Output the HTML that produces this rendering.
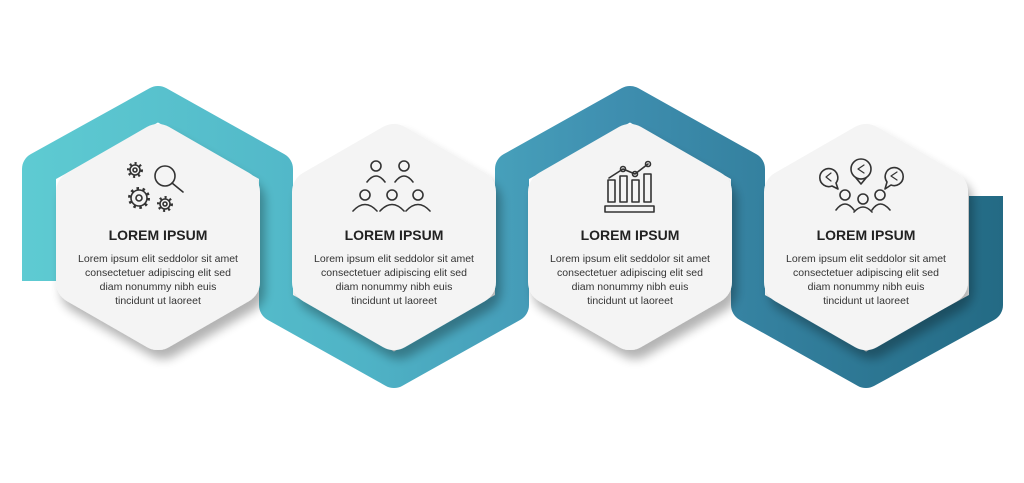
<!DOCTYPE html>
<html><head><meta charset="utf-8"><style>
html,body{margin:0;padding:0;background:#fff;}
svg{display:block}
text{font-family:"Liberation Sans",sans-serif;fill:#222;text-anchor:middle}
.t{font-weight:bold;font-size:14px}
.b{font-size:10.5px;fill:#333}
.ic{fill:none;stroke:#333;stroke-width:1.6;stroke-linecap:round;stroke-linejoin:round}
.gt{fill:none;stroke:#333;stroke-width:3}
</style></head><body>
<svg width="1024" height="483" viewBox="0 0 1024 483">
<defs>
<linearGradient id="g" gradientUnits="userSpaceOnUse" x1="20" y1="0" x2="1005" y2="0">
<stop offset="0" stop-color="#5ecbd2"/><stop offset="0.35" stop-color="#4fb3c6"/>
<stop offset="0.6" stop-color="#3f8fb0"/><stop offset="1" stop-color="#236a84"/>
</linearGradient>
<filter id="sh" x="-20%" y="-20%" width="150%" height="150%">
<feGaussianBlur in="SourceAlpha" stdDeviation="5"/><feOffset dx="5" dy="9"/>
<feComponentTransfer><feFuncA type="linear" slope="0.3"/></feComponentTransfer>
<feMerge><feMergeNode/><feMergeNode in="SourceGraphic"/></feMerge></filter>
</defs>
<path d="M39 281 L39 169 L158 103 L276 169 L276 305 L394 371 L512 305 L512 169 L630 103 L748 169 L748 305 L866 371 L986 305 L986 196" fill="none" stroke="url(#g)" stroke-width="34" stroke-linejoin="round"/>
<g filter="url(#sh)" fill="#f4f4f4" stroke="#f4f4f4" stroke-width="44" stroke-linejoin="round">
<polygon points="158,146 238,192 238,282 158,328 78,282 78,192"/>
<polygon points="394,146 474,192 474,282 394,328 314,282 314,192"/>
<polygon points="630,146 710,192 710,282 630,328 550,282 550,192"/>
<polygon points="866,146 946,192 946,282 866,328 786,282 786,192"/>
</g>
<g class="ic">
<circle cx="135" cy="170" r="5"/><circle cx="135" cy="170" r="2"/>
<circle cx="165" cy="176" r="10"/><line x1="172" y1="183" x2="183" y2="192"/>
<circle cx="139" cy="198" r="8"/><circle cx="139" cy="198" r="3"/>
<circle cx="165" cy="204" r="5"/><circle cx="165" cy="204" r="2"/>
</g>
<circle class="gt" cx="135" cy="170" r="6.5" stroke-dasharray="2 3"/>
<circle class="gt" cx="139" cy="198" r="9.5" stroke-dasharray="2.5 3.5"/>
<circle class="gt" cx="165" cy="204" r="6.5" stroke-dasharray="2 3"/>
<g class="ic">
<circle cx="376" cy="166" r="5"/><path d="M367 182 Q376 170 385 182"/>
<circle cx="404" cy="166" r="5"/><path d="M395 182 Q404 170 413 182"/>
<circle cx="365" cy="195" r="5"/><path d="M353 211 Q365 198 377 211"/>
<circle cx="392" cy="195" r="5"/><path d="M380 211 Q392 198 404 211"/>
<circle cx="418" cy="195" r="5"/><path d="M406 211 Q418 198 430 211"/>
</g>
<g class="ic">
<rect x="605" y="206" width="49" height="6"/>
<rect x="608" y="180" width="7" height="22"/><rect x="620" y="176" width="7" height="26"/>
<rect x="632" y="180" width="7" height="22"/><rect x="644" y="174" width="7" height="28"/>
<polyline points="609,178 623,169 635,174 648,164"/>
<circle cx="623" cy="169" r="2.5"/><circle cx="635" cy="174" r="2.5"/><circle cx="648" cy="164" r="2.5"/>
</g>
<g class="ic">
<path d="M836 183 A9 9 0 1 0 832 186 L838 189 Z"/>
<path d="M861 179 A10 10 0 1 0 861 179 M856 178 L861 184 L866 178"/>
<circle cx="861" cy="169" r="10"/>
<path d="M887 182 A9 9 0 1 1 891 185 L885 189 Z"/>
<circle cx="845" cy="195" r="5"/><path d="M836 210 Q845 198 854 210"/>
<circle cx="863" cy="199" r="5"/><path d="M854 212 Q863 202 872 212"/>
<circle cx="880" cy="195" r="5"/><path d="M872 210 Q880 198 890 210"/>
<path d="M826 177 L831 173 M826 177 L831 181" stroke-width="1.2"/>
<path d="M858 169 L864 165 M858 169 L864 173" stroke-width="1.2"/>
<path d="M891 176 L897 172 M891 176 L897 180" stroke-width="1.2"/>
</g>
<g>
<text class="t" x="158" y="240">LOREM IPSUM</text>
<text class="b" x="158" y="262">Lorem ipsum elit seddolor sit amet</text>
<text class="b" x="158" y="276">consectetuer adipiscing elit sed</text>
<text class="b" x="158" y="290">diam nonummy nibh euis</text>
<text class="b" x="158" y="304">tincidunt ut laoreet</text>
<text class="t" x="394" y="240">LOREM IPSUM</text>
<text class="b" x="394" y="262">Lorem ipsum elit seddolor sit amet</text>
<text class="b" x="394" y="276">consectetuer adipiscing elit sed</text>
<text class="b" x="394" y="290">diam nonummy nibh euis</text>
<text class="b" x="394" y="304">tincidunt ut laoreet</text>
<text class="t" x="630" y="240">LOREM IPSUM</text>
<text class="b" x="630" y="262">Lorem ipsum elit seddolor sit amet</text>
<text class="b" x="630" y="276">consectetuer adipiscing elit sed</text>
<text class="b" x="630" y="290">diam nonummy nibh euis</text>
<text class="b" x="630" y="304">tincidunt ut laoreet</text>
<text class="t" x="866" y="240">LOREM IPSUM</text>
<text class="b" x="866" y="262">Lorem ipsum elit seddolor sit amet</text>
<text class="b" x="866" y="276">consectetuer adipiscing elit sed</text>
<text class="b" x="866" y="290">diam nonummy nibh euis</text>
<text class="b" x="866" y="304">tincidunt ut laoreet</text>
</g>
</svg>
</body></html>
